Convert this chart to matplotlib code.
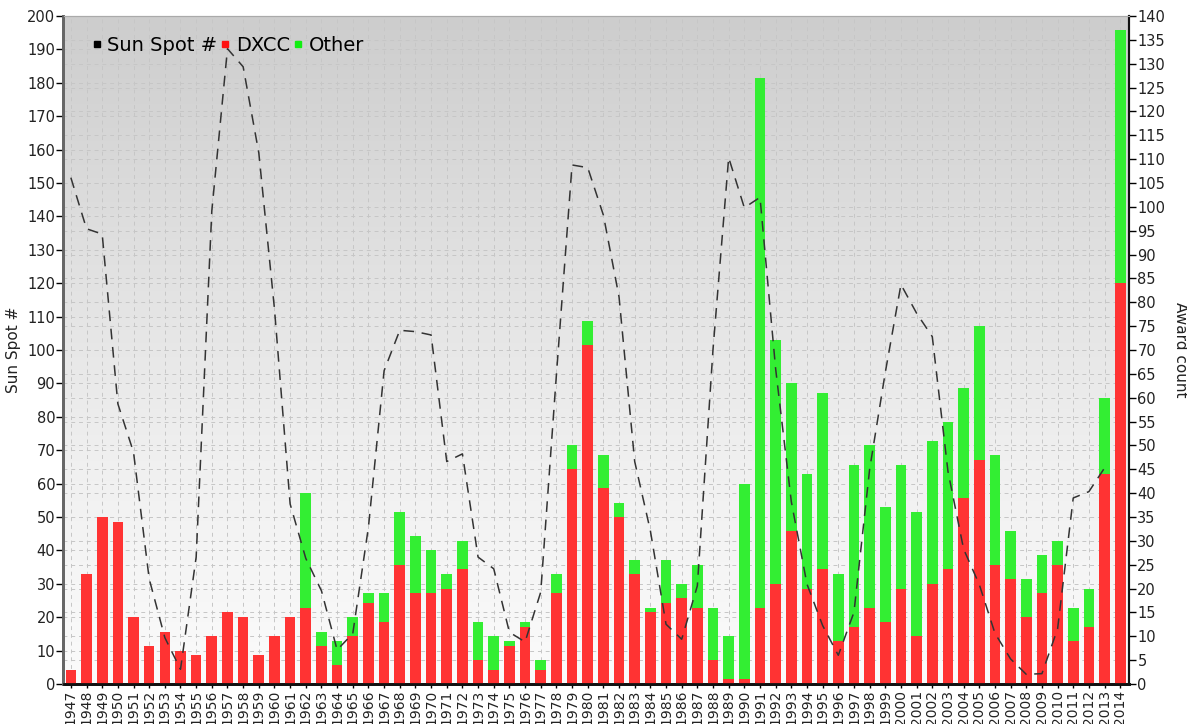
import numpy as np
import matplotlib
matplotlib.use("Agg")
import matplotlib.pyplot as plt
from matplotlib.lines import Line2D
from matplotlib.colors import LinearSegmentedColormap

years = list(range(1947, 2015))
dxcc = [3, 23, 35, 34, 14, 8, 11, 7, 6, 10, 15, 14, 6, 10, 14, 16, 8, 4, 10, 17,
        13, 25, 19, 19, 20, 24, 5, 3, 8, 12, 3, 19, 45, 71, 41, 35, 23, 15, 17, 18,
        16, 5, 1, 1, 16, 21, 32, 20, 24, 9, 12, 16, 13, 20, 10, 21, 24, 39, 47, 25,
        22, 14, 19, 25, 9, 12, 44, 84]
other = [0, 0, 0, 0, 0, 0, 0, 0, 0, 0, 0, 0, 0, 0, 0, 24, 3, 5, 4, 2,
         6, 11, 12, 9, 3, 6, 8, 7, 1, 1, 2, 4, 5, 5, 7, 3, 3, 1, 9, 3,
         9, 11, 9, 41, 111, 51, 31, 24, 37, 14, 34, 34, 24, 26, 26, 30, 31, 23, 28, 23,
         10, 8, 8, 5, 7, 8, 16, 53]
sunspot_years = list(range(1947, 2014))
sunspots = [151.6, 136.3, 134.7, 83.9, 69.4, 31.5, 13.9, 4.4, 38.0, 141.7,
            190.2, 184.8, 159.0, 112.3, 53.9, 37.6, 27.9, 10.2, 15.1, 47.0,
            93.8, 105.9, 105.5, 104.5, 66.6, 68.9, 38.0, 34.5, 15.5, 12.6,
            27.5, 92.5, 155.4, 154.6, 140.4, 115.9, 66.6, 45.9, 17.9, 13.4,
            29.4, 100.2, 157.6, 142.6, 145.7, 94.3, 54.6, 29.9, 17.5, 8.6,
            21.5, 64.3, 93.3, 119.6, 111.0, 104.0, 63.7, 40.4, 29.8, 15.2,
            7.5, 2.9, 3.1, 16.5, 55.7, 57.6, 64.7]

RED = "#ff3333"
GREEN = "#33ee33"
TXT = "#222222"

plt.rcParams['font.family'] = ['DejaVu Sans']
fig = plt.figure(figsize=(11.87, 7.24), dpi=100)
ax = fig.add_axes([63.5 / 1187, 40 / 724, (1129 - 63.5) / 1187, 668 / 724])
ax2 = ax.twinx()

# background gradient
grad = np.linspace(0, 1, 256).reshape(-1, 1)
cmap = LinearSegmentedColormap.from_list("bg", ["#fbfbfb", "#f0f0f0", "#dfdfdf", "#cdcdcd"])
ax.imshow(grad, cmap=cmap, origin="lower", extent=[0, 1, 0, 1], transform=ax.transAxes,
          aspect="auto", zorder=0, interpolation="bicubic")

# bars (right axis scale)
ax.bar(years, dxcc, width=0.68, color=RED, zorder=3, linewidth=0)
ax.bar(years, other, bottom=dxcc, width=0.68, color=GREEN, zorder=3, linewidth=0)
ax.set_xlim(1946.53, 2014.56)
ax.set_ylim(0, 140)

# grid: dashed
gkw = dict(color="#c6c6c6", lw=0.7, ls=(0, (4, 4)), zorder=1)
for y in np.arange(5, 140, 5):
    ax.axhline(y, **gkw)
for v in np.arange(10, 200, 10):
    ax.axhline(v * 0.7, **gkw)
for x in years:
    ax.axvline(x, **gkw)

ax.set_xticks(years)
ax.set_xticklabels([str(y) for y in years], rotation=90, fontsize=10, color=TXT)
ax.tick_params(axis="x", length=3, width=1, pad=1)

# sunspot line (left axis)
ax2.plot(sunspot_years, sunspots, color="#333333", lw=1.1, ls=(0, (7, 5)), zorder=5)
ax2.set_ylim(0, 200)
ax2.set_yticks(np.arange(0, 201, 10))

# axis sides: bars' scale on the right, sunspots' scale on the left
ax.yaxis.tick_right()
ax.yaxis.set_label_position("right")
ax.set_yticks(np.arange(0, 141, 5))
ax.set_ylabel("Award count", rotation=-90, labelpad=16, fontsize=11, color=TXT)
ax.tick_params(axis="y", left=False, labelleft=False, right=True, labelright=True,
               labelsize=10.5, labelcolor=TXT, length=5, width=1, direction="out", pad=1)
ax2.yaxis.tick_left()
ax2.yaxis.set_label_position("left")
ax2.set_ylabel("Sun Spot #", fontsize=11, labelpad=4, color=TXT)
ax2.tick_params(axis="y", left=True, labelleft=True, right=False, labelright=False,
                labelsize=10.5, labelcolor=TXT, length=5, width=1, direction="out", pad=1)

for a in (ax, ax2):
    a.spines["top"].set_color("#aaaaaa")
    a.spines["top"].set_linewidth(0.8)
    a.spines["left"].set_color("#666666")
    a.spines["left"].set_linewidth(2)
    a.spines["right"].set_color("#111111")
    a.spines["right"].set_linewidth(1.5)
    a.spines["bottom"].set_color("#111111")
    a.spines["bottom"].set_linewidth(2)

handles = [Line2D([], [], marker="s", ls="", color="#000000", markersize=5),
           Line2D([], [], marker="s", ls="", color="#ff1111", markersize=5),
           Line2D([], [], marker="s", ls="", color="#11ee11", markersize=5)]
ax2.legend(handles, ["Sun Spot #", "DXCC", "Other"], loc="upper left",
           bbox_to_anchor=(0.013, 0.99), ncol=3, frameon=False, fontsize=14,
           handlelength=0.6, handletextpad=0.25, columnspacing=0.1, borderpad=0.2)

fig.savefig("out.png", dpi=100)
